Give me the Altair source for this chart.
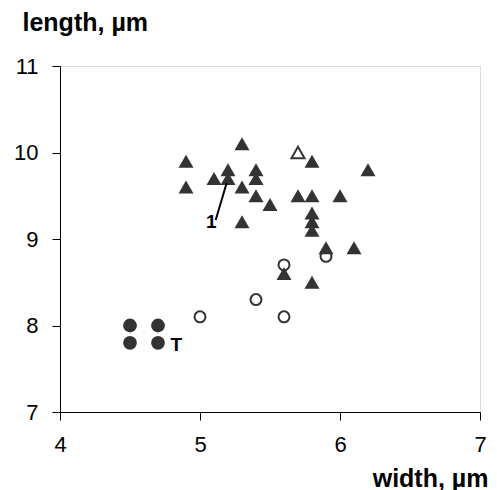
import altair as alt
import pandas as pd

# Filled triangles
tri_x = [4.9, 4.9, 5.3, 5.1, 5.2, 5.2, 5.3, 5.4, 5.4, 5.4, 5.5, 5.3, 5.7, 5.8, 5.8, 6.0, 6.2, 5.8, 5.8, 5.8, 5.9, 6.1, 5.6, 5.8]
tri_y = [9.9, 9.6, 10.1, 9.7, 9.8, 9.7, 9.6, 9.8, 9.7, 9.5, 9.4, 9.2, 9.5, 9.5, 9.9, 9.5, 9.8, 9.3, 9.2, 9.1, 8.9, 8.9, 8.6, 8.5]
# Open triangle
otri_x = [5.7]
otri_y = [10.0]
# Open circles
ocir_x = [5.0, 5.4, 5.6, 5.6, 5.9]
ocir_y = [8.1, 8.3, 8.1, 8.7, 8.8]
# Filled circles
fcir_x = [4.5, 4.5, 4.7, 4.7]
fcir_y = [8.0, 7.8, 8.0, 7.8]
# Annotations
lab_text = ["1", "T"]
lab_x = [5.08, 4.83]
lab_y = [9.2, 7.78]
lead_x = [5.112]
lead_y = [9.22]
lead_x2 = [5.19]
lead_y2 = [9.645]

DARK = "#333333"
FONT = "Liberation Sans"

xs = alt.Scale(domain=[4, 7], nice=False, zero=False)
ys = alt.Scale(domain=[7, 11], nice=False, zero=False)

x_axis = alt.Axis(
    values=[4, 5, 6, 7], format="d", title="width, µm", grid=False,
    labelFontSize=22, labelFont=FONT, labelColor="black", labelPadding=14,
    tickSize=8, tickColor="black", domainColor="black", labelFlush=False,
    titleFont=FONT, titleFontSize=25, titleFontWeight="bold", titleColor="black",
    titleAlign="right", titleBaseline="alphabetic", titleAnchor="end",
    titleX=428, titleY=74,
)
y_axis = alt.Axis(
    values=[7, 8, 9, 10, 11], format="d", title="length, µm", grid=False,
    labelFontSize=22, labelFont=FONT, labelColor="black", labelPadding=14,
    tickSize=8, tickColor="black", domainColor="black", labelFlush=False,
    titleFont=FONT, titleFontSize=25, titleFontWeight="bold", titleColor="black",
    titleAngle=0, titleAlign="left", titleBaseline="alphabetic",
    titleX=-38, titleY=-36,
)

df_tri = pd.DataFrame({"x": tri_x, "y": tri_y})
df_otri = pd.DataFrame({"x": otri_x, "y": otri_y})
df_ocir = pd.DataFrame({"x": ocir_x, "y": ocir_y})
df_fcir = pd.DataFrame({"x": fcir_x, "y": fcir_y})
df_lab = pd.DataFrame({"t": lab_text, "x": lab_x, "y": lab_y})
df_lead = pd.DataFrame({"x": lead_x, "y": lead_y, "x2": lead_x2, "y2": lead_y2})

ocir = alt.Chart(df_ocir).mark_point(
    shape="circle", size=120, filled=False, stroke=DARK, strokeWidth=2, fill="white", opacity=1
).encode(x=alt.X("x:Q", scale=xs, axis=x_axis), y=alt.Y("y:Q", scale=ys, axis=y_axis))

fcir = alt.Chart(df_fcir).mark_point(
    shape="circle", size=190, filled=True, color=DARK, opacity=1
).encode(x=alt.X("x:Q", scale=xs), y=alt.Y("y:Q", scale=ys))

tri = alt.Chart(df_tri).mark_point(
    shape="triangle-up", size=225, filled=True, color=DARK, opacity=1
).encode(x=alt.X("x:Q", scale=xs), y=alt.Y("y:Q", scale=ys))

otri = alt.Chart(df_otri).mark_point(
    shape="triangle-up", size=170, filled=False, stroke=DARK, strokeWidth=2, fill="white", opacity=1
).encode(x=alt.X("x:Q", scale=xs), y=alt.Y("y:Q", scale=ys))

lead = alt.Chart(df_lead).mark_rule(color="black", strokeWidth=2).encode(
    x=alt.X("x:Q", scale=xs), y=alt.Y("y:Q", scale=ys), x2="x2:Q", y2="y2:Q"
)

labels = alt.Chart(df_lab).mark_text(
    font=FONT, fontSize=19, fontWeight="bold", color="black", align="center", baseline="middle"
).encode(x=alt.X("x:Q", scale=xs), y=alt.Y("y:Q", scale=ys), text="t:N")

chart = alt.layer(ocir, fcir, tri, otri, lead, labels).properties(
    width=420, height=346,
    autosize=alt.AutoSizeParams(type="none"),
    padding={"left": 60, "top": 66, "right": 17, "bottom": 78},
).configure_view(stroke="black", strokeWidth=1).configure(background="white")

chart.save("out.html", embed_options={"renderer": "svg", "actions": False})
